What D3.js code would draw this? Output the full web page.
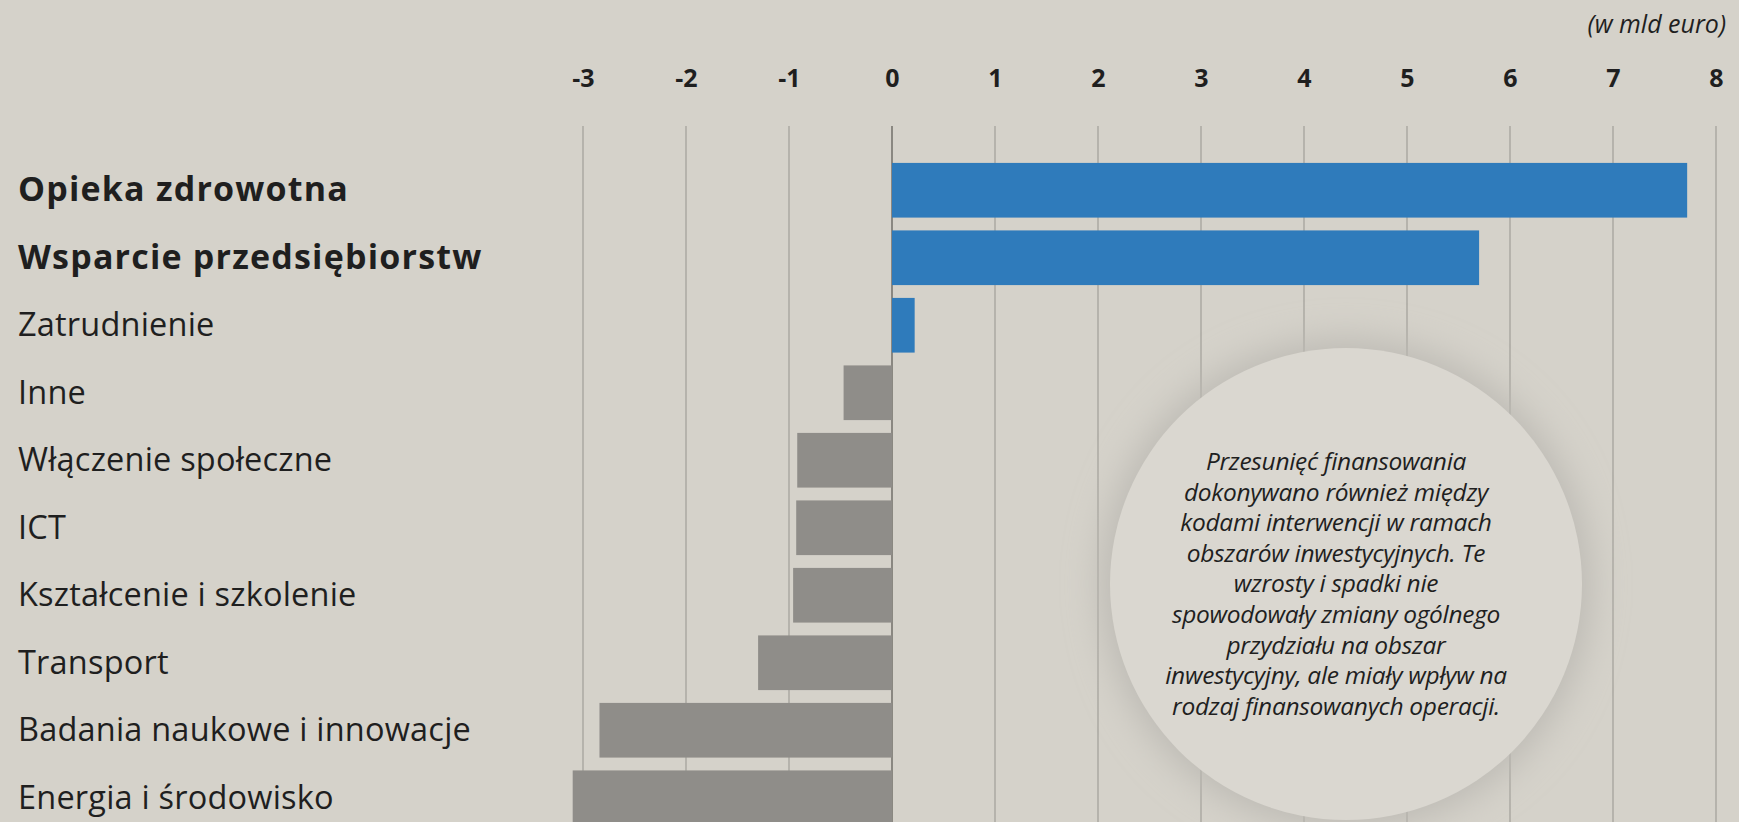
<!DOCTYPE html>
<html>
<head>
<meta charset="utf-8">
<script src="https://cdn.jsdelivr.net/npm/d3@7"></script>
<style>
    html, body { margin: 0; padding: 0; background: #d5d2ca; }
    svg { display: block; }
    text { font-family: "Open Sans", "DejaVu Sans", sans-serif; fill: #1f1f1f; }
</style>
</head>
<body>
<div id="chart"></div>
<script>
// ============================================
// Przesunięcia finansowania (w mld euro)
// ============================================

const categories = [
    'Opieka zdrowotna',
    'Wsparcie przedsiębiorstw',
    'Zatrudnienie',
    'Inne',
    'Włączenie społeczne',
    'ICT',
    'Kształcenie i szkolenie',
    'Transport',
    'Badania naukowe i innowacje',
    'Energia i środowisko'
];
const values = [7.72, 5.70, 0.22, -0.47, -0.92, -0.93, -0.96, -1.30, -2.84, -3.10];
const boldCategories = ['Opieka zdrowotna', 'Wsparcie przedsiębiorstw'];
const ticks = [-3, -2, -1, 0, 1, 2, 3, 4, 5, 6, 7, 8];
const unitLabel = '(w mld euro)';
const noteLines = [
    'Przesunięć finansowania',
    'dokonywano również między',
    'kodami interwencji w ramach',
    'obszarów inwestycyjnych. Te',
    'wzrosty i spadki nie',
    'spowodowały zmiany ogólnego',
    'przydziału na obszar',
    'inwestycyjny, ale miały wpływ na',
    'rodzaj finansowanych operacji.'
];

const width = 1739;
const height = 822;

const svg = d3.select('#chart')
    .append('svg')
    .attr('width', width)
    .attr('height', height);

const x = d3.scaleLinear()
    .domain([-3, 8])
    .range([583, 1716]);

const y = d3.scaleBand()
    .domain(categories)
    .range([156.5, 831.5])
    .paddingInner(0.19)
    .paddingOuter(0.095);

const defs = svg.append('defs');
defs.append('filter')
    .attr('id', 'halo')
    .attr('x', '-30%').attr('y', '-30%')
    .attr('width', '160%').attr('height', '160%')
    .append('feGaussianBlur')
    .attr('stdDeviation', 18);

// Grid lines
svg.append('g')
    .selectAll('line')
    .data(ticks)
    .join('line')
    .attr('x1', d => x(d))
    .attr('x2', d => x(d))
    .attr('y1', 126)
    .attr('y2', height)
    .attr('stroke', d => d === 0 ? '#77756f' : '#9c9a94')
    .attr('stroke-width', d => d === 0 ? 1.6 : 1.1);

// Note circle (covers the grid)
const note = svg.append('g');
note.append('circle')
    .attr('cx', 1346).attr('cy', 584).attr('r', 244)
    .attr('fill', '#bcb9b3')
    .attr('filter', 'url(#halo)');
note.append('circle')
    .attr('cx', 1346).attr('cy', 584).attr('r', 236)
    .attr('fill', '#dad7d0');

note.append('g')
    .selectAll('text')
    .data(noteLines)
    .join('text')
    .attr('x', 1336)
    .attr('y', (d, i) => 470 + i * 30.6)
    .attr('text-anchor', 'middle')
    .style('font-size', '24.5px')
    .style('font-style', 'italic')
    .style('letter-spacing', '-0.3px')
    .text(d => d);

// Bars
svg.append('g')
    .selectAll('rect')
    .data(values)
    .join('rect')
    .attr('x', d => x(Math.min(0, d)))
    .attr('width', d => Math.abs(x(d) - x(0)))
    .attr('y', (d, i) => y(categories[i]))
    .attr('height', y.bandwidth())
    .attr('fill', d => d > 0 ? '#2f7bbb' : '#8f8d89');

// Axis on top
const axis = svg.append('g')
    .attr('transform', 'translate(0,87)')
    .call(d3.axisTop(x).tickValues(ticks).tickSize(0).tickPadding(0).tickFormat(d => String(d)));
axis.select('.domain').remove();
axis.selectAll('text')
    .style('font-family', '"Open Sans", sans-serif')
    .style('font-size', '25px')
    .style('font-weight', 'bold')
    .attr('fill', '#1f1f1f')
    .attr('dy', 0);

svg.append('text')
    .attr('x', 1726)
    .attr('y', 33)
    .attr('text-anchor', 'end')
    .style('font-size', '25px')
    .style('font-style', 'italic')
    .text(unitLabel);

// Category labels
svg.append('g')
    .selectAll('text')
    .data(categories)
    .join('text')
    .attr('x', 18)
    .attr('y', d => y(d) + y.bandwidth() / 2 + 11)
    .style('font-size', d => boldCategories.includes(d) ? '34px' : '32.5px')
    .style('font-weight', d => boldCategories.includes(d) ? 'bold' : 'normal')
    .style('letter-spacing', d => boldCategories.includes(d) ? '1.2px' : '0.2px')
    .text(d => d);
</script>
</body>
</html>
